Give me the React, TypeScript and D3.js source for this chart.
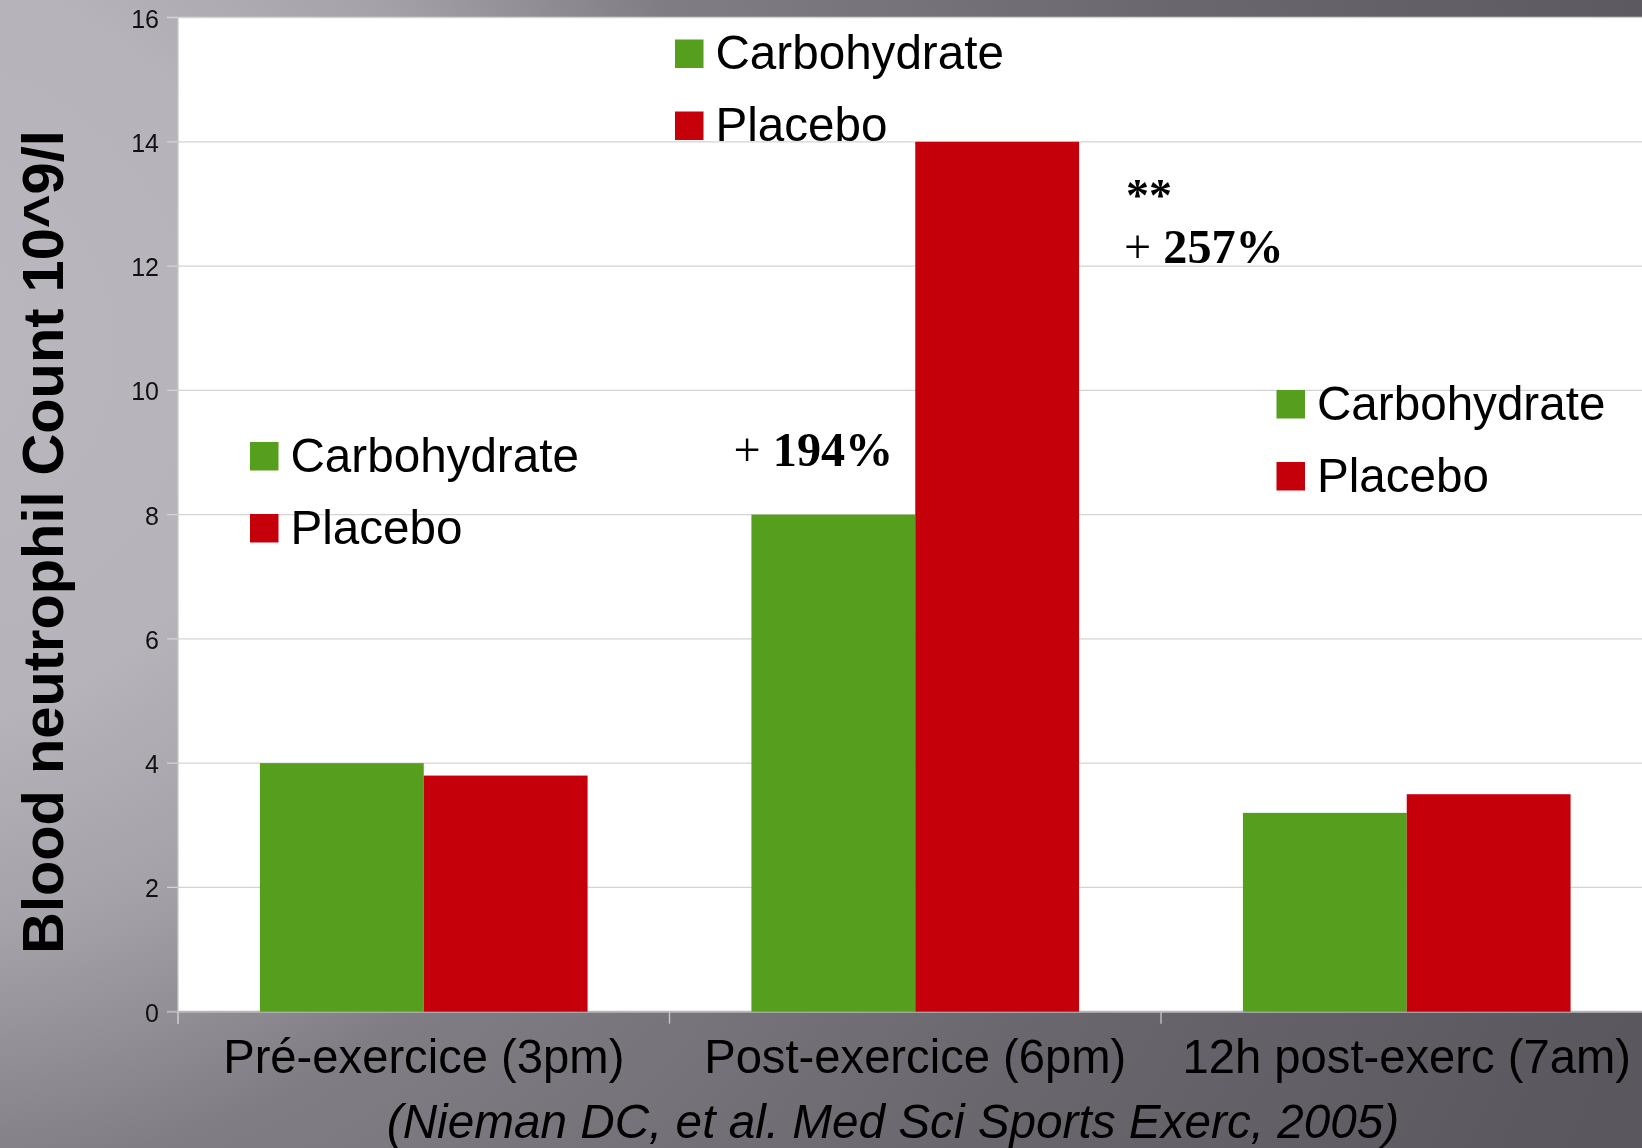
import React from 'react';
import * as d3 from 'd3';

// Neutrophil counts (10^9/l) at each sampling time
const categories = ['Pré-exercice (3pm)', 'Post-exercice (6pm)', '12h post-exerc (7am)'];
const seriesNames = ['Carbohydrate', 'Placebo'];
const carbohydrate = [4.0, 8.0, 3.2];
const placebo = [3.8, 14.0, 3.5];
const seriesColors = ['#559e1e', '#c5000b'];
const yTicks = [0, 2, 4, 6, 8, 10, 12, 14, 16];
const yTitle = 'Blood neutrophil Count 10^9/l';
const citation = '(Nieman DC, et al. Med Sci Sports Exerc, 2005)';

// Legend copies placed inside the plot
const legendSpots = [
  { x: 250, y: 442 },
  { x: 675, y: 39.5 },
  { x: 1276.5, y: 390 },
];

const W = 1642;
const H = 1148;
const plot = { left: 178, right: 1652.5, top: 17.5, bottom: 1011.7 };

const SANS = '"Liberation Sans", Arial, Helvetica, sans-serif';
const SERIF = '"Liberation Serif", "Times New Roman", serif';

export default function App() {
  const x0 = d3
    .scaleBand<string>()
    .domain(categories)
    .range([plot.left, plot.right])
    .paddingInner(1 / 3)
    .paddingOuter(1 / 6);
  const x1 = d3.scaleBand<string>().domain(seriesNames).range([0, x0.bandwidth()]);
  const y = d3.scaleLinear().domain([0, 16]).range([plot.bottom, plot.top]);

  const rows = categories.map((c, i) => ({
    category: c,
    values: [carbohydrate[i], placebo[i]],
  }));

  const step = x0.step();
  const boundaries = d3.range(categories.length + 1).map((i) => plot.left + i * step);

  // Percentage annotations around the post-exercise group
  const postX = x0(categories[1])!;
  const placeboRight = postX + x1('Placebo')! + x1.bandwidth();
  const placeboLeft = postX + x1('Placebo')!;

  return (
    <svg
      width={W}
      height={H}
      style={{ position: 'fixed', left: 0, top: 0, display: 'block' }}
    >
      <defs>
        <radialGradient id="bg" cx={-100} cy={350} r={1850} gradientUnits="userSpaceOnUse">
          <stop offset="0" stopColor="#bab8be" />
          <stop offset="0.2" stopColor="#b6b4ba" />
          <stop offset="0.32" stopColor="#a4a2a8" />
          <stop offset="0.45" stopColor="#807e84" />
          <stop offset="0.72" stopColor="#69676d" />
          <stop offset="1" stopColor="#5a585e" />
        </radialGradient>
      </defs>
      <rect x={0} y={0} width={W} height={H} fill="url(#bg)" />

      {/* plot area */}
      <rect
        x={plot.left}
        y={plot.top}
        width={plot.right - plot.left}
        height={plot.bottom - plot.top}
        fill="#ffffff"
      />

      {/* gridlines with left tick stubs */}
      {yTicks.map((t) => (
        <line
          key={'g' + t}
          x1={plot.left - 11}
          x2={plot.right}
          y1={y(t)}
          y2={y(t)}
          stroke={t === 0 ? '#b9b9b9' : '#d4d4d4'}
          strokeWidth={t === 0 ? 2 : 1.3}
        />
      ))}
      <line
        x1={plot.left}
        x2={plot.left}
        y1={plot.top}
        y2={plot.bottom + 12}
        stroke="#c8c8c8"
        strokeWidth={1.3}
      />
      {boundaries.map((bx, i) => (
        <line
          key={'b' + i}
          x1={bx}
          x2={bx}
          y1={plot.bottom}
          y2={plot.bottom + 12}
          stroke="#c8c8c8"
          strokeWidth={1.3}
        />
      ))}

      {/* y tick labels */}
      {yTicks.map((t) => (
        <text
          key={'t' + t}
          x={159}
          y={y(t) + 10}
          textAnchor="end"
          fontFamily={SANS}
          fontSize={25}
          fill="#111"
        >
          {t}
        </text>
      ))}

      {/* bars */}
      {rows.map((r) => (
        <g key={r.category} transform={`translate(${x0(r.category)},0)`}>
          {r.values.map((v, j) => (
            <rect
              key={seriesNames[j]}
              x={x1(seriesNames[j])}
              y={y(v)}
              width={x1.bandwidth()}
              height={y(0) - y(v)}
              fill={seriesColors[j]}
            />
          ))}
        </g>
      ))}

      {/* legends */}
      {legendSpots.map((p, k) => (
        <g key={'l' + k} transform={`translate(${p.x},${p.y})`}>
          {seriesNames.map((s, j) => (
            <g key={s} transform={`translate(0,${j * 72})`}>
              <rect x={0} y={0} width={28.5} height={28.5} fill={seriesColors[j]} />
              <text x={40.5} y={29.5} fontFamily={SANS} fontSize={47.6} fill="#000">
                {s}
              </text>
            </g>
          ))}
        </g>
      ))}

      {/* annotations */}
      <text
        x={placeboLeft - 22}
        y={y(carbohydrate[1]) - 49}
        textAnchor="end"
        fontFamily={SERIF}
        fontSize={48.2}
        fill="#000"
      >
        <tspan>+ </tspan>
        <tspan fontWeight="bold">194%</tspan>
      </text>
      <text x={placeboRight + 47} y={211} fontFamily={SERIF} fontWeight="bold" fontSize={46} fill="#000">
        **
      </text>
      <text x={placeboRight + 45} y={263} fontFamily={SERIF} fontSize={48.2} fill="#000">
        <tspan>+ </tspan>
        <tspan fontWeight="bold">257%</tspan>
      </text>

      {/* category labels */}
      {categories.map((c) => (
        <text
          key={'c' + c}
          x={x0(c)! + x0.bandwidth() / 2}
          y={1073}
          textAnchor="middle"
          fontFamily={SANS}
          fontSize={47.2}
          fill="#000"
        >
          {c}
        </text>
      ))}

      {/* citation */}
      <text
        x={893}
        y={1138}
        textAnchor="middle"
        fontFamily={SANS}
        fontStyle="italic"
        fontSize={47.7}
        fill="#000"
      >
        {citation}
      </text>

      {/* y axis title */}
      <text
        transform="translate(63,542) rotate(-90)"
        textAnchor="middle"
        fontFamily={SANS}
        fontWeight="bold"
        fontSize={57.8}
        fill="#000"
      >
        {yTitle}
      </text>
    </svg>
  );
}
